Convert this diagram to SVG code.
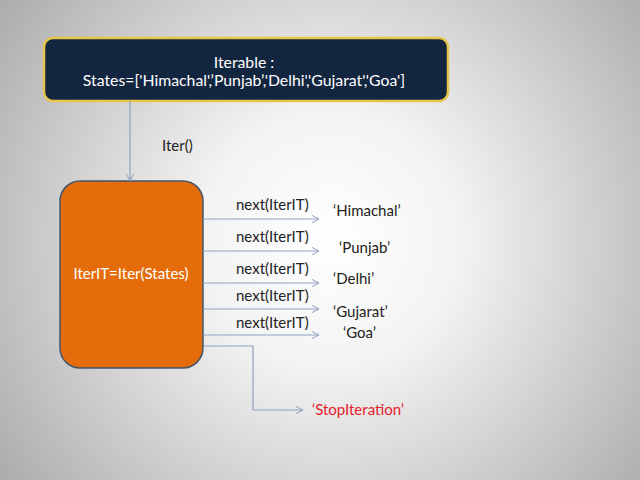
<svg xmlns="http://www.w3.org/2000/svg" width="640" height="480" viewBox="0 0 640 480">
<defs>
<radialGradient id="bg" cx="330" cy="240" r="430" gradientUnits="userSpaceOnUse">
<stop offset="0" stop-color="#ffffff"/>
<stop offset="0.3" stop-color="#f3f3f3"/>
<stop offset="1" stop-color="#a6a6a6"/>
</radialGradient>
<marker id="ah" markerWidth="10" markerHeight="10" refX="8" refY="4" orient="auto" markerUnits="userSpaceOnUse">
<path d="M1,0.5 L8,4 L1,7.5" fill="none" stroke="#8ea2bd" stroke-width="1"/>
</marker>
<style>
.t{font-family:Lato,"Open Sans","Liberation Sans",sans-serif;font-size:15px;fill:#222}
.h{font-size:15.8px}
.w{fill:#ffffff}
.r{fill:#e8202a}
.c{fill:none;stroke:#8ea2bd;stroke-width:1.2}
</style>
</defs>
<rect width="640" height="480" fill="url(#bg)"/>
<g id="iterable">
<rect x="44" y="38" width="404" height="63" rx="9" fill="#13263f" stroke="#e6c54a" stroke-width="2.5"/>
<text class="t h w" x="244" y="68" text-anchor="middle">Iterable :</text>
<text class="t h w" x="244" y="86" text-anchor="middle">States=['Himachal',’Punjab’,'Delhi','Gujarat','Goa']</text>
</g>
<g id="iterator">
<rect x="60" y="181" width="143" height="187" rx="20" fill="#e46c0a" stroke="#42556e" stroke-width="1.5"/>
<text class="t w" x="131" y="279" text-anchor="middle">IterIT=Iter(States)</text>
</g>
<g id="connectors">
<path class="c" d="M130,101 V181" marker-end="url(#ah)"/>
<path class="c" d="M203,219 H319" marker-end="url(#ah)"/>
<path class="c" d="M203,251 H319" marker-end="url(#ah)"/>
<path class="c" d="M203,283 H319" marker-end="url(#ah)"/>
<path class="c" d="M203,309 H319" marker-end="url(#ah)"/>
<path class="c" d="M203,335 H319" marker-end="url(#ah)"/>
<path class="c" d="M203,346 H253 V410 H303" marker-end="url(#ah)"/>
</g>
<g id="labels">
<text class="t" x="162" y="151">Iter()</text>
<text class="t" x="236" y="210">next(IterIT)</text>
<text class="t" x="236" y="242">next(IterIT)</text>
<text class="t" x="236" y="274">next(IterIT)</text>
<text class="t" x="236" y="301">next(IterIT)</text>
<text class="t" x="236" y="328">next(IterIT)</text>
</g>
<g id="values">
<text class="t" x="333" y="216">‘Himachal’</text>
<text class="t" x="339" y="253">‘Punjab’</text>
<text class="t" x="333" y="284">‘Delhi’</text>
<text class="t" x="333" y="317">‘Gujarat’</text>
<text class="t" x="343" y="338">‘Goa’</text>
<text class="t r" x="312" y="415">‘StopIteration’</text>
</g>
</svg>
